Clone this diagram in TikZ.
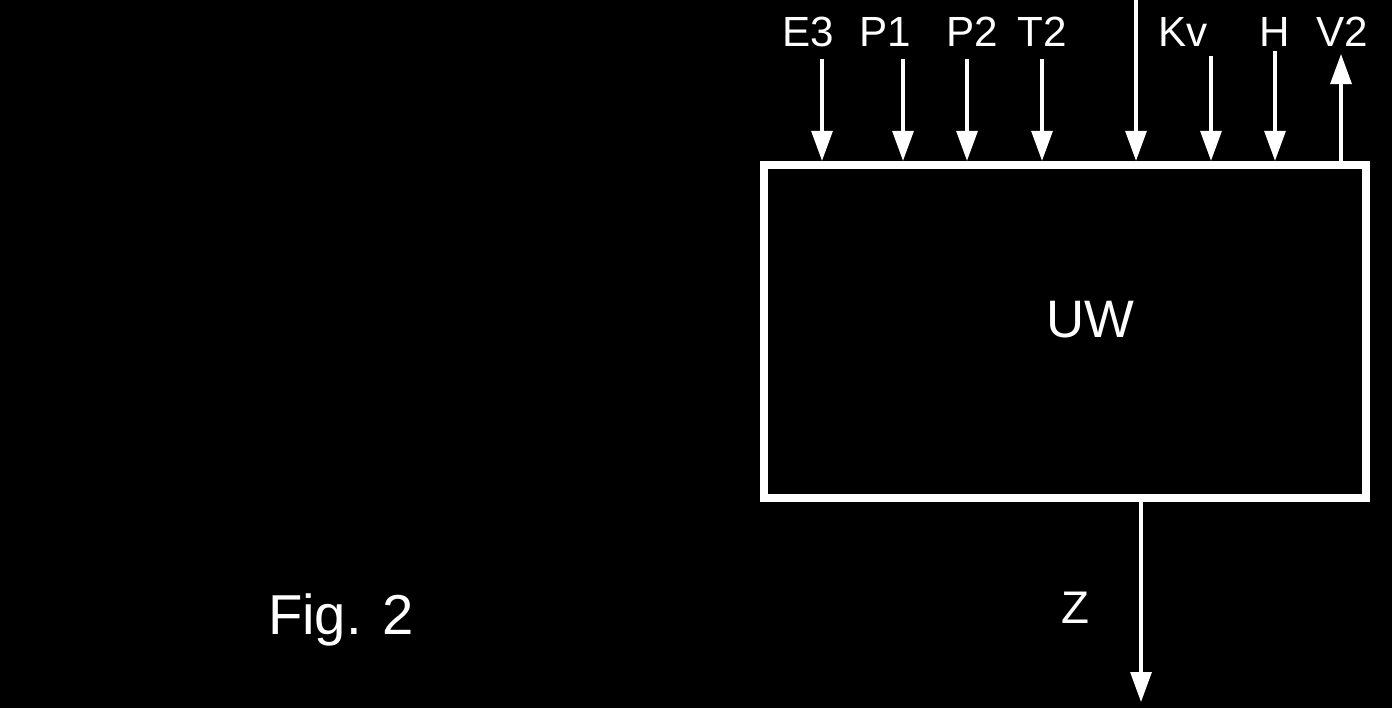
\documentclass[tikz,border=0pt]{standalone}
\usepackage{fontspec}
\setmainfont{Liberation Sans}
\usetikzlibrary{arrows.meta}
\begin{document}
\begin{tikzpicture}[x=0.01cm,y=-0.01cm,
  lbl/.style={text=white,font=\fontsize{12}{14}\selectfont,anchor=base,inner sep=0pt},
  arr/.style={draw=white,line width=0.9pt,-{Triangle[width=0.21cm,length=0.3cm]}},
  box/.style={draw=white,line width=2.3pt,minimum width=6.02cm,minimum height=3.33cm,inner sep=0pt}]
\fill[black] (0,0) rectangle (1392,708);
\useasboundingbox (0,0) rectangle (1392,708);
\node[box] (uw) at (1065,331.5) {};
\node[text=white,font=\fontsize{15}{18}\selectfont,inner sep=0pt] (uwt) at (1090,320) {UW};
% labels
\node[lbl] (le3) at (808,46) {E3};
\node[lbl] (lp1) at (885,46) {P1};
\node[lbl] (lp2) at (972,46) {P2};
\node[lbl] (lt2) at (1042,46) {T2};
\node[lbl] (lkv) at (1183,46) {Kv};
\node[lbl] (lh) at (1275,46) {H};
\node[lbl] (lv2) at (1342,46) {V2};
% arrow start points
\coordinate (se3) at (822,59);
\coordinate (sp1) at (903,59);
\coordinate (sp2) at (967,59);
\coordinate (st2) at (1042,59);
\coordinate (sx) at (1136,-2);
\coordinate (skv) at (1211,56);
\coordinate (sh) at (1275,51);
\coordinate (ev2) at (1341,54);
\foreach \c in {se3,sp1,sp2,st2,sx,skv,sh}
  \draw[arr] (\c) -- (\c |- uw.north);
\draw[arr] (ev2 |- uw.north) -- (ev2);
% output Z
\coordinate (ez) at (1141,702);
\draw[arr] (ez |- uw.south) -- (ez);
\node[text=white,font=\fontsize{13}{15}\selectfont,inner sep=0pt] (lz) at (1075,608) {Z};
\node[text=white,font=\fontsize{16}{19}\selectfont,inner sep=0pt] (fig) at (341,620) {Fig. 2};
\end{tikzpicture}
\end{document}
